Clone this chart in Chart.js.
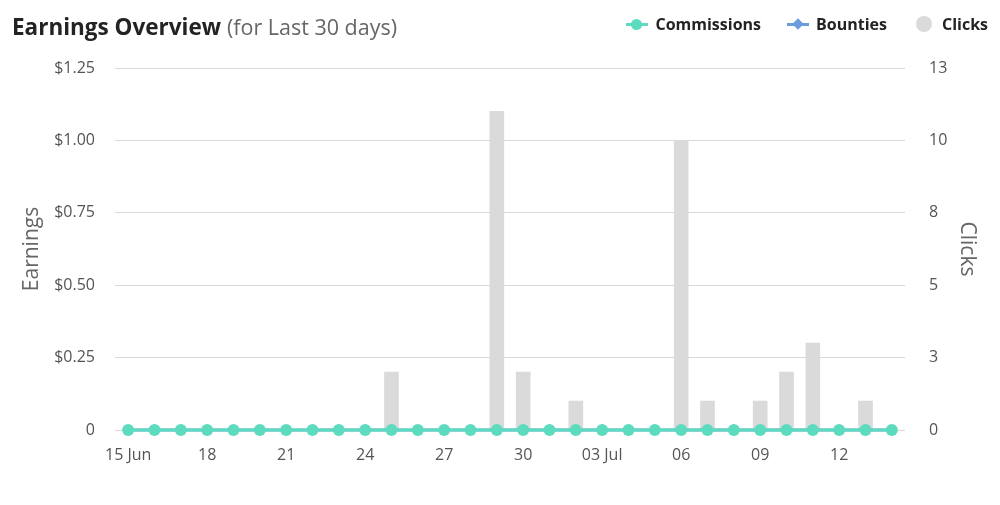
<!DOCTYPE html>
<html>
<head>
<meta charset="utf-8">
<script src="https://cdn.jsdelivr.net/npm/chart.js@4.4.1/dist/chart.umd.min.js"></script>
<style>
  html, body { margin:0; padding:0; background:#fff; }
  body { width:1000px; height:505px; position:relative; overflow:hidden; font-family:'Open Sans', sans-serif; }
  #wrap { position:absolute; left:0; top:0; width:1000px; height:505px; }
  .title { position:absolute; left:12px; top:11px; font-size:22.5px; color:#232323; white-space:nowrap; }
  .title b { font-weight:700; }
  .title span { color:#666; font-weight:400; font-size:21.5px; }
  .legend { position:absolute; right:12px; top:13px; display:flex; align-items:center; font-size:16px; font-weight:700; color:#232323; }
  .item { display:flex; align-items:center; margin-left:26px; }
  .mk { position:relative; width:22px; height:16px; margin-right:7px; }
  .mk .ln { position:absolute; left:0; right:0; top:7px; height:3px; }
  .mk .dot { position:absolute; left:5px; top:3px; width:11px; height:11px; border-radius:50%; }
  .mk .dia { position:absolute; left:7px; top:4px; width:8px; height:8px; transform:rotate(45deg); }
  .mk .big { position:absolute; left:3px; top:0; width:16px; height:16px; border-radius:50%; }
</style>
</head>
<body>
<div id="wrap"><canvas id="c"></canvas></div>
<div class="title"><b>Earnings Overview</b> <span>(for Last 30 days)</span></div>
<div class="legend">
  <div class="item"><div class="mk"><div class="ln" style="background:#5cdbbf"></div><div class="dot" style="background:#5cdbbf"></div></div>Commissions</div>
  <div class="item"><div class="mk"><div class="ln" style="background:#6b9ddd"></div><div class="dia" style="background:#6b9ddd"></div></div>Bounties</div>
  <div class="item"><div class="mk"><div class="big" style="background:#dadada"></div></div>Clicks</div>
</div>
<script>
const days = ['15 Jun','16 Jun','17 Jun','18 Jun','19 Jun','20 Jun','21 Jun','22 Jun','23 Jun','24 Jun',
              '25 Jun','26 Jun','27 Jun','28 Jun','29 Jun','30 Jun','01 Jul','02 Jul','03 Jul','04 Jul',
              '05 Jul','06 Jul','07 Jul','08 Jul','09 Jul','10 Jul','11 Jul','12 Jul','13 Jul','14 Jul'];
const commissions = [0,0,0,0,0,0,0,0,0,0,0,0,0,0,0,0,0,0,0,0,0,0,0,0,0,0,0,0,0,0];
const bounties    = [0,0,0,0,0,0,0,0,0,0,0,0,0,0,0,0,0,0,0,0,0,0,0,0,0,0,0,0,0,0];
const clicks      = [0,0,0,0,0,0,0,0,0,0,2,0,0,0,11,2,0,1,0,0,0,10,1,0,1,2,3,0,1,0];
const earnTicks = [0, 0.25, 0.5, 0.75, 1.0, 1.25];
const clickTicks = [0, 2.5, 5, 7.5, 10, 12.5];

// day number, plus month name when the month changes between shown ticks
function dayLabel(i) {
    if (i % 3 !== 0) return '';
    let [d, m] = days[i].split(' ');
    if (i === 0) return days[i];
    let prevM = days[i - 3].split(' ')[1];
    return m !== prevM ? d + ' ' + m : d;
}

function setup() {
    Chart.defaults.font.family = "'Open Sans', sans-serif";
    Chart.defaults.color = '#555';
    Chart.defaults.font.size = 16;

    const cv = document.getElementById('c');
    new Chart(cv.getContext('2d'), {
        type: 'bar',
        data: {
            labels: days,
            datasets: [
                { type:'line', label:'Commissions', data:commissions, yAxisID:'y', order:0, clip:false,
                  borderColor:'#5cdbbf', backgroundColor:'#5cdbbf', pointBackgroundColor:'#5cdbbf',
                  pointBorderColor:'#5cdbbf', pointBorderWidth:0, pointRadius:6, borderWidth:3 },
                { type:'line', label:'Bounties', data:bounties, yAxisID:'y', order:1, clip:false,
                  borderColor:'#6b9ddd', backgroundColor:'#6b9ddd', pointStyle:'rectRot',
                  pointRadius:0, borderWidth:3 },
                { type:'bar', label:'Clicks', data:clicks, yAxisID:'y1', order:2,
                  backgroundColor:'#dadada', barThickness:14 }
            ]
        },
        options: {
            responsive:false, animation:false,
            layout:{ padding:{ left:15, right:16, top:68, bottom:35 } },
            plugins:{ legend:{display:false}, tooltip:{enabled:false} },
            scales:{
                x:{ grid:{display:false}, border:{display:false}, offset:true,
                    ticks:{ autoSkip:false, maxRotation:0, padding:8, color:'#555',
                            callback:function(v, i){ return dayLabel(i); } },
                    afterFit:function(s){ s.height = 40; } },
                y:{ position:'left', min:0, max:1.25, border:{display:false},
                    grid:{ color:'#d9d9d9', drawTicks:false },
                    afterBuildTicks:function(s){ s.ticks = earnTicks.map(v => ({value:v})); },
                    ticks:{ padding:20, callback:function(v){ return v === 0 ? '0' : '$' + v.toFixed(2); } },
                    title:{ display:true, text:'Earnings', color:'#666', font:{size:21} },
                    afterFit:function(s){ s.width = 100; } },
                y1:{ position:'right', min:0, max:12.5, border:{display:false},
                     grid:{ display:false, drawTicks:false },
                     afterBuildTicks:function(s){ s.ticks = clickTicks.map(v => ({value:v})); },
                     ticks:{ padding:24, callback:function(v){ return String(Math.round(v)); } },
                     title:{ display:true, text:'Clicks', color:'#666', font:{size:21} },
                     afterFit:function(s){ s.width = 79; } }
            }
        }
    });
}
document.getElementById('c').width = 1000;
document.getElementById('c').height = 505;
document.addEventListener('DOMContentLoaded', setup);
</script>
</body>
</html>
